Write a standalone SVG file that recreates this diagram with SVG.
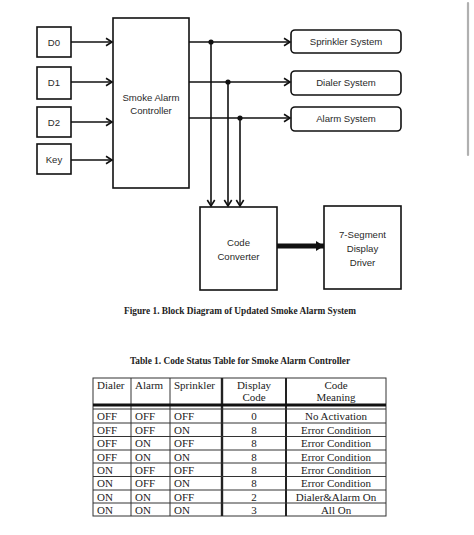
<svg xmlns="http://www.w3.org/2000/svg" width="474" height="535" viewBox="0 0 474 535">
<style>
.box{fill:#fff;stroke:#111;stroke-width:1.6}
.ln{fill:none;stroke:#111;stroke-width:1.6}
.t{font-family:"Liberation Sans",Arial,sans-serif;font-size:9.6px;fill:#2a2a2a;text-anchor:middle}
.cap{font-family:"Liberation Serif","Times New Roman",serif;font-size:9.3px;font-weight:bold;fill:#222;text-anchor:middle}
.tb{font-family:"Liberation Serif","Times New Roman",serif;font-size:11px;fill:#222}
.c{text-anchor:middle}
.g{fill:none;stroke:#333;stroke-width:1}
</style>
<defs>
<marker id="chev" markerUnits="userSpaceOnUse" markerWidth="10" markerHeight="10" refX="7" refY="4.5" orient="auto" viewBox="0 0 10 9">
<path d="M1,0.8 L7,4.5 L1,8.2" fill="none" stroke="#111" stroke-width="1.6"/>
</marker>
<marker id="tri" markerUnits="userSpaceOnUse" markerWidth="10" markerHeight="12" refX="8" refY="6" orient="auto" viewBox="0 0 10 12">
<path d="M0,1 L8,6 L0,11 Z" fill="#111"/>
</marker>
</defs>
<rect width="474" height="535" fill="#fff"/>
<line x1="468" y1="3" x2="468" y2="155" stroke="#b0b0b0" stroke-width="2.2" stroke-linecap="round"/>

<g id="d0"><rect class="box" x="37" y="27" width="34" height="30"/><text class="t" x="54" y="45.5">D0</text></g>
<g id="d1"><rect class="box" x="37" y="67" width="34" height="32"/><text class="t" x="54" y="86">D1</text></g>
<g id="d2"><rect class="box" x="37" y="107" width="34" height="30"/><text class="t" x="54" y="126">D2</text></g>
<g id="key"><rect class="box" x="37" y="144" width="34" height="30"/><text class="t" x="54" y="163">Key</text></g>
<g id="controller"><rect class="box" x="113" y="18" width="76" height="170"/><text class="t" x="151" y="101">Smoke Alarm</text><text class="t" x="151" y="114">Controller</text></g>
<g id="sprinkler"><rect class="box" x="291" y="30" width="110" height="23" rx="4"/><text class="t" x="346" y="45">Sprinkler System</text></g>
<g id="dialer"><rect class="box" x="291" y="71" width="110" height="24" rx="4"/><text class="t" x="346" y="86">Dialer System</text></g>
<g id="alarm"><rect class="box" x="291" y="107" width="110" height="24" rx="4"/><text class="t" x="346" y="122">Alarm System</text></g>
<g id="converter"><rect class="box" x="200" y="207" width="77" height="83"/><text class="t" x="238.5" y="246">Code</text><text class="t" x="238.5" y="260">Converter</text></g>
<g id="driver"><rect class="box" x="324" y="206" width="77" height="83"/><text class="t" x="362.5" y="238">7-Segment</text><text class="t" x="362.5" y="252">Display</text><text class="t" x="362.5" y="266">Driver</text></g>

<g id="connectors">
<line class="ln" x1="71" y1="42" x2="112" y2="42" marker-end="url(#chev)"/>
<line class="ln" x1="71" y1="82" x2="112" y2="82" marker-end="url(#chev)"/>
<line class="ln" x1="71" y1="122" x2="112" y2="122" marker-end="url(#chev)"/>
<line class="ln" x1="71" y1="160" x2="112" y2="160" marker-end="url(#chev)"/>
<line class="ln" x1="189" y1="42" x2="290" y2="42" marker-end="url(#chev)"/>
<line class="ln" x1="189" y1="82" x2="290" y2="82" marker-end="url(#chev)"/>
<line class="ln" x1="189" y1="118" x2="290" y2="118" marker-end="url(#chev)"/>
<line class="ln" x1="211" y1="42" x2="211" y2="206" marker-end="url(#chev)"/>
<line class="ln" x1="228" y1="82" x2="228" y2="206" marker-end="url(#chev)"/>
<line class="ln" x1="240" y1="118" x2="240" y2="206" marker-end="url(#chev)"/>
<circle cx="211" cy="42" r="2.6" fill="#111"/>
<circle cx="228" cy="82" r="2.6" fill="#111"/>
<circle cx="240" cy="118" r="2.6" fill="#111"/>
<line x1="277" y1="246" x2="324" y2="246" stroke="#111" stroke-width="5" marker-end="url(#tri)"/>
</g>

<text class="cap" x="240" y="314">Figure 1. Block Diagram of Updated Smoke Alarm System</text>
<text class="cap" x="240" y="364">Table 1. Code Status Table for Smoke Alarm Controller</text>

<g id="table">
<rect class="g" x="93" y="378" width="293" height="138"/>
<line class="g" x1="131" y1="378" x2="131" y2="516"/>
<line class="g" x1="170" y1="378" x2="170" y2="516"/>
<line x1="222" y1="378" x2="222" y2="516" stroke="#222" stroke-width="2.4"/>
<line x1="286" y1="378" x2="286" y2="516" stroke="#222" stroke-width="2"/>
<line x1="93" y1="405" x2="386" y2="405" stroke="#111" stroke-width="3"/>
<line class="g" x1="93" y1="409" x2="386" y2="409"/>
<line class="g" x1="93" y1="423" x2="386" y2="423"/>
<line class="g" x1="93" y1="436.5" x2="386" y2="436.5"/>
<line class="g" x1="93" y1="450" x2="386" y2="450"/>
<line class="g" x1="93" y1="463" x2="386" y2="463"/>
<line class="g" x1="93" y1="476.5" x2="386" y2="476.5"/>
<line class="g" x1="93" y1="490" x2="386" y2="490"/>
<line class="g" x1="93" y1="503" x2="386" y2="503"/>
<g class="tb">
<text x="97" y="389">Dialer</text><text x="135" y="389">Alarm</text><text x="174" y="389">Sprinkler</text>
<text class="c" x="254" y="389">Display</text><text class="c" x="254" y="400.5">Code</text>
<text class="c" x="336" y="389">Code</text><text class="c" x="336" y="400.5">Meaning</text>

<text x="97" y="420">OFF</text><text x="135" y="420">OFF</text><text x="174" y="420">OFF</text><text class="c" x="254" y="420">0</text><text class="c" x="336" y="420">No Activation</text>
<text x="97" y="433.5">OFF</text><text x="135" y="433.5">OFF</text><text x="174" y="433.5">ON</text><text class="c" x="254" y="433.5">8</text><text class="c" x="336" y="433.5">Error Condition</text>
<text x="97" y="447">OFF</text><text x="135" y="447">ON</text><text x="174" y="447">OFF</text><text class="c" x="254" y="447">8</text><text class="c" x="336" y="447">Error Condition</text>
<text x="97" y="460.5">OFF</text><text x="135" y="460.5">ON</text><text x="174" y="460.5">ON</text><text class="c" x="254" y="460.5">8</text><text class="c" x="336" y="460.5">Error Condition</text>
<text x="97" y="474">ON</text><text x="135" y="474">OFF</text><text x="174" y="474">OFF</text><text class="c" x="254" y="474">8</text><text class="c" x="336" y="474">Error Condition</text>
<text x="97" y="487">ON</text><text x="135" y="487">OFF</text><text x="174" y="487">ON</text><text class="c" x="254" y="487">8</text><text class="c" x="336" y="487">Error Condition</text>
<text x="97" y="500.5">ON</text><text x="135" y="500.5">ON</text><text x="174" y="500.5">OFF</text><text class="c" x="254" y="500.5">2</text><text class="c" x="336" y="500.5">Dialer&amp;Alarm On</text>
<text x="97" y="513.5">ON</text><text x="135" y="513.5">ON</text><text x="174" y="513.5">ON</text><text class="c" x="254" y="513.5">3</text><text class="c" x="336" y="513.5">All On</text>
</g>
</g>
</svg>
